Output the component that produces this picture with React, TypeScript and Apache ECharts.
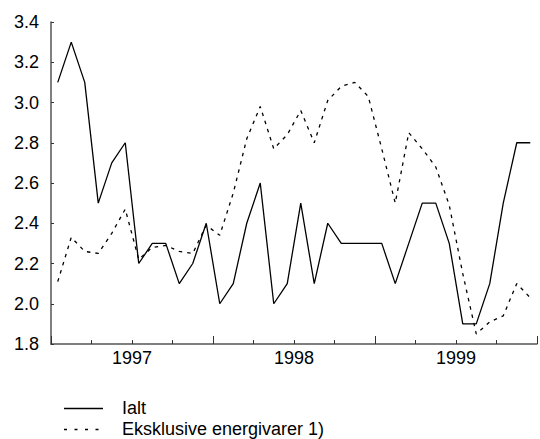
import React, { useEffect, useRef } from "react";
import * as echarts from "echarts";

const years = ["1997", "1998", "1999"];
const seriesNames = ["Ialt", "Eksklusive energivarer 1)"];
const ialt = [
  3.1, 3.3, 3.1, 2.5, 2.7, 2.8, 2.2, 2.3, 2.3, 2.1, 2.2, 2.4,
  2.0, 2.1, 2.4, 2.6, 2.0, 2.1, 2.5, 2.1, 2.4, 2.3, 2.3, 2.3,
  2.3, 2.1, 2.3, 2.5, 2.5, 2.3, 1.9, 1.9, 2.1, 2.5, 2.8, 2.8,
];
const eksklEnergi = [
  2.11, 2.33, 2.26, 2.25, 2.35, 2.47, 2.22, 2.28, 2.29, 2.26, 2.25, 2.39,
  2.34, 2.55, 2.82, 2.98, 2.77, 2.84, 2.96, 2.8, 3.01, 3.08, 3.1, 3.03,
  2.77, 2.5, 2.85, 2.77, 2.68, 2.49, 2.15, 1.85, 1.91, 1.94, 2.1, 2.03,
];
const yTicks = { min: 1.8, max: 3.4, step: 0.2 };

const FONT = '"Liberation Sans", Arial, Helvetica, sans-serif';

export default function App() {
  const ref = useRef<HTMLDivElement>(null);
  useEffect(() => {
    if (!ref.current) return;
    const chart = echarts.init(ref.current, undefined, { renderer: "svg" });
    const nMonths = ialt.length;
    const toPts = (arr: number[]) => arr.map((v, i) => [i + 0.5, v]);
    const axisColor = "#555";
    chart.setOption({
      animation: false,
      backgroundColor: "#fff",
      textStyle: { fontFamily: FONT },
      grid: { left: 51, right: -7, top: 22, bottom: 95, containLabel: false },
      xAxis: [
        {
          type: "value",
          min: 0,
          max: nMonths,
          interval: 3,
          axisLine: { show: true, lineStyle: { color: axisColor, width: 1.5 } },
          axisTick: { show: true, inside: true, length: 4, lineStyle: { color: "#333", width: 1 } },
          splitLine: { show: false },
          axisLabel: {
            show: true,
            margin: 5,
            color: "#000",
            fontSize: 18,
            fontFamily: FONT,
            showMinLabel: true,
            showMaxLabel: true,
            formatter: (v: number) => {
              const r = Math.round(v);
              if (r % 12 === 6) {
                const idx = (r - 6) / 12;
                return years[idx] ?? "";
              }
              return "";
            },
          },
        },
        {
          type: "value",
          position: "bottom",
          min: 0,
          max: nMonths,
          interval: 12,
          axisLine: { show: false },
          axisTick: { show: true, inside: true, length: 8, lineStyle: { color: "#333", width: 1 } },
          axisLabel: { show: false },
          splitLine: { show: false },
        },
      ],
      yAxis: {
        type: "value",
        min: yTicks.min,
        max: yTicks.max,
        interval: yTicks.step,
        axisLine: { show: true, lineStyle: { color: axisColor, width: 1.5 } },
        axisTick: { show: true, inside: true, length: 3, lineStyle: { color: "#333", width: 1 } },
        splitLine: { show: false },
        axisLabel: {
          margin: 12,
          color: "#000",
          fontSize: 18,
          fontFamily: FONT,
          formatter: (v: number) => v.toFixed(1),
        },
      },
      series: [
        {
          name: seriesNames[0],
          type: "line",
          xAxisIndex: 0,
          data: toPts(ialt),
          symbol: "none",
          lineStyle: { color: "#000", width: 1.3, type: "solid" },
        },
        {
          name: seriesNames[1],
          type: "line",
          xAxisIndex: 0,
          data: toPts(eksklEnergi),
          symbol: "none",
          lineStyle: { color: "#000", width: 1.3, type: [3.5, 5] },
        },
      ],
      graphic: [
        {
          type: "line",
          shape: { x1: 64, y1: 408.5, x2: 103, y2: 408.5 },
          style: { stroke: "#000", lineWidth: 1.3 },
        },
        {
          type: "line",
          shape: { x1: 64, y1: 429.5, x2: 103, y2: 429.5 },
          style: { stroke: "#000", lineWidth: 1.3, lineDash: [3, 7.5] },
        },
        {
          type: "text",
          x: 122,
          y: 407.5,
          style: {
            text: seriesNames[0],
            fill: "#000",
            font: `18px ${FONT}`,
            textVerticalAlign: "middle",
            verticalAlign: "middle",
          },
        },
        {
          type: "text",
          x: 122,
          y: 429,
          style: {
            text: seriesNames[1],
            fill: "#000",
            font: `18px ${FONT}`,
            textVerticalAlign: "middle",
            verticalAlign: "middle",
          },
        },
      ],
    });
    return () => chart.dispose();
  }, []);
  return (
    <div
      ref={ref}
      style={{ position: "fixed", left: 0, top: 0, width: 540, height: 439 }}
    />
  );
}
